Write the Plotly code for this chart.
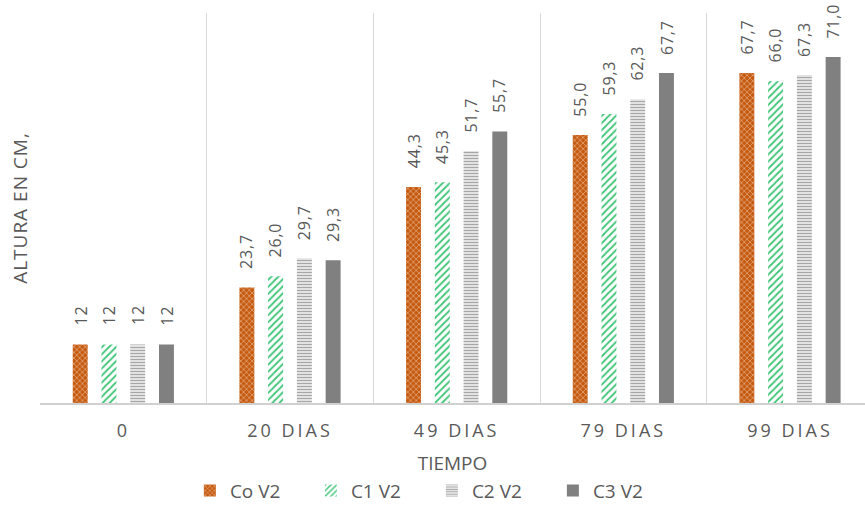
import plotly.graph_objects as go

categories = ["0", "20 DIAS", "49 DIAS", "79 DIAS", "99 DIAS"]
series_names = ["Co V2", "C1 V2", "C2 V2", "C3 V2"]
co_v2 = [12, 23.7, 44.3, 55.0, 67.7]
c1_v2 = [12, 26.0, 45.3, 59.3, 66.0]
c2_v2 = [12, 29.7, 51.7, 62.3, 67.3]
c3_v2 = [12, 29.3, 55.7, 67.7, 71.0]
series_values = [co_v2, c1_v2, c2_v2, c3_v2]

TXT = "#595959"
FONT = "Open Sans"

styles = [
    dict(color="#C55A11", pattern=dict(shape="x", fgcolor="#F3C9AA", bgcolor="#C55A11", size=4, solidity=0.25, fillmode="replace")),
    dict(color="#3CC476", pattern=dict(shape="/", fgcolor="#3CC476", bgcolor="white", size=5, solidity=0.35, fillmode="replace")),
    dict(color="#A6A6A6", pattern=dict(shape="-", fgcolor="#A6A6A6", bgcolor="white", size=3, solidity=0.55, fillmode="replace")),
    dict(color="#808080"),
]

def fmt(v):
    if isinstance(v, int):
        return str(v)
    return f"{v:.1f}".replace(".", ",")

xs = list(range(len(categories)))
fig = go.Figure()
for name, vals, st in zip(series_names, series_values, styles):
    fig.add_trace(go.Bar(x=xs, y=vals, name=name, hoverinfo="skip",
                         marker=dict(line=dict(width=0), **st)))

bargap = 0.31
n = len(series_names)
slot = (1 - bargap) / n
annotations = []
for j, vals in enumerate(series_values):
    off = -(1 - bargap) / 2 + (j + 0.5) * slot
    for i, v in enumerate(vals):
        annotations.append(dict(x=i + off, y=v, xref="x", yref="y", text=fmt(v),
                                showarrow=False, textangle=-90, yanchor="bottom",
                                xanchor="center", yshift=18,
                                font=dict(family=FONT, size=16, color=TXT)))

fig.update_layout(
    width=865, height=510,
    margin=dict(l=40, r=0, t=13, b=105),
    plot_bgcolor="white", paper_bgcolor="white",
    barmode="group", bargap=bargap, bargroupgap=0.48,
    font=dict(family=FONT, color=TXT),
    annotations=annotations,
    showlegend=True,
    legend=dict(orientation="h", x=0.475, xanchor="center", y=-0.225, yanchor="middle",
                font=dict(size=19, color=TXT), entrywidth=76, entrywidthmode="pixels",
                itemsizing="constant"),
    xaxis=dict(range=[-0.5, 4.45], tickmode="array", tickvals=xs, ticktext=categories,
               showgrid=False, zeroline=False, showline=True, linecolor="#D0D0D0", linewidth=2,
               ticks="", ticklabelstandoff=10, tickfont=dict(size=18, color=TXT),
               minor=dict(tickmode="array", tickvals=[i - 0.5 for i in range(len(categories) + 1)],
                          showgrid=True, gridcolor="#D9D9D9", gridwidth=1, ticks=""),
               title=dict(text="TIEMPO", font=dict(size=19, color=TXT), standoff=16)),
    yaxis=dict(range=[0, 80], showticklabels=False, showgrid=False, zeroline=False,
               showline=False, ticks="",
               title=dict(text="ALTURA EN CM,", font=dict(size=19, color=TXT), standoff=6)),
)

post = """
document.body.style.margin = '0';
var gd = document.getElementById('{plot_id}');
gd.querySelectorAll('.xtick text').forEach(function(t){ t.style.letterSpacing = '3px'; });
gd.querySelectorAll('.annotation-text').forEach(function(t){ t.style.letterSpacing = '0.8px'; });
gd.querySelectorAll('.ytitle').forEach(function(t){ t.style.letterSpacing = '1px'; });
"""

fig.write_html("out.html", post_script=post, config={"displayModeBar": False, "staticPlot": True})
